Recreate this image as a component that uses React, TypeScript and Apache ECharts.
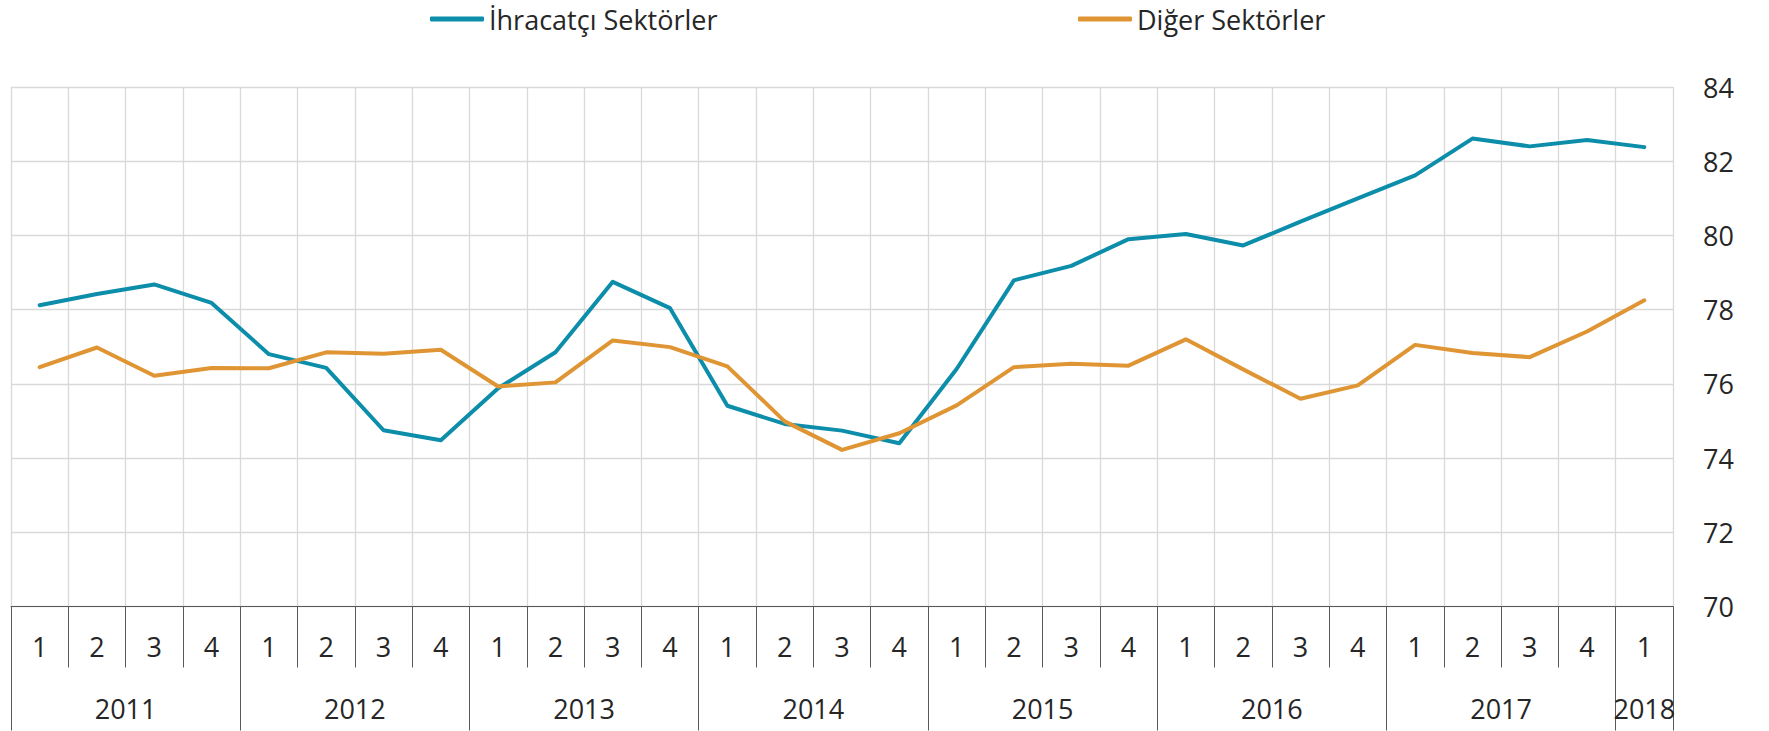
import React, { useEffect, useRef } from "react";
import * as echarts from "echarts";

const quarters: string[] = [
  "1", "2", "3", "4", "1", "2", "3", "4", "1", "2", "3", "4", "1", "2", "3", "4",
  "1", "2", "3", "4", "1", "2", "3", "4", "1", "2", "3", "4", "1",
];
const years: string[] = ["2011", "2012", "2013", "2014", "2015", "2016", "2017", "2018"];
const yearBoundaries: number[] = [0, 4, 8, 12, 16, 20, 24, 28, 29];
const yearCenters: number[] = [2, 6, 10, 14, 18, 22, 26, 28.5];

const ihracatci: number[] = [
  78.12, 78.42, 78.68, 78.18, 76.8, 76.43, 74.75, 74.48, 75.88, 76.85, 78.75, 78.04,
  75.41, 74.92, 74.74, 74.4, 76.4, 78.79, 79.18, 79.9, 80.04, 79.73, 80.37, 81.0,
  81.62, 82.61, 82.4, 82.57, 82.38,
];
const diger: number[] = [
  76.45, 76.98, 76.22, 76.43, 76.42, 76.85, 76.81, 76.92, 75.93, 76.04, 77.17, 76.99,
  76.47, 74.99, 74.22, 74.67, 75.42, 76.45, 76.54, 76.49, 77.2, 76.39, 75.6, 75.96,
  77.05, 76.83, 76.72, 77.41, 78.25,
];

const FONT = "Open Sans";
const TEXT = "#262626";
const AXIS = "#595959";
const GRID = "#d9d9d9";
const BLUE = "#0C8DAA";
const ORANGE = "#DF9534";

export default function App() {
  const ref = useRef<HTMLDivElement>(null);
  useEffect(() => {
    if (!ref.current) return;
    const chart = echarts.init(ref.current, null, { renderer: "svg" });
    const legendText = { fontFamily: FONT, fontSize: 27, color: TEXT, lineHeight: 30 };
    chart.setOption({
      animation: false,
      backgroundColor: "#ffffff",
      legend: [
        {
          data: ["İhracatçı Sektörler"],
          left: 430,
          top: 4,
          icon: "roundRect",
          itemWidth: 54,
          itemHeight: 5,
          itemGap: 0,
          padding: 0,
          textStyle: legendText,
        },
        {
          data: ["Diğer Sektörler"],
          left: 1078,
          top: 4,
          icon: "roundRect",
          itemWidth: 54,
          itemHeight: 5,
          itemGap: 0,
          padding: 0,
          textStyle: legendText,
        },
      ],
      grid: { left: 11, top: 87, width: 1662, height: 519.5, containLabel: false },
      xAxis: [
        {
          type: "category",
          data: quarters,
          boundaryGap: true,
          position: "bottom",
          axisLine: { show: true, lineStyle: { color: AXIS, width: 1 } },
          axisTick: { show: true, interval: 0, length: 61, lineStyle: { color: AXIS, width: 1 } },
          axisLabel: { interval: 0, margin: 26, fontFamily: FONT, fontSize: 27, color: TEXT },
          splitLine: { show: true, interval: 0, lineStyle: { color: GRID, width: 1.3 } },
        },
        {
          type: "value",
          min: 0,
          max: 29,
          position: "bottom",
          axisLine: { show: false },
          axisTick: {
            show: true,
            customValues: yearBoundaries,
            length: 124,
            lineStyle: { color: AXIS, width: 1 },
          },
          axisLabel: {
            show: true,
            customValues: yearCenters,
            margin: 88,
            fontFamily: FONT,
            fontSize: 27,
            color: TEXT,
            formatter: (v: number) => years[Math.min(years.length - 1, Math.floor(v / 4))],
          },
          splitLine: { show: false },
        },
      ],
      yAxis: {
        type: "value",
        position: "right",
        min: 70,
        max: 84,
        interval: 2,
        axisLine: { show: false },
        axisTick: { show: false },
        axisLabel: { margin: 30, fontFamily: FONT, fontSize: 27, color: TEXT },
        splitLine: { show: true, lineStyle: { color: GRID, width: 1.3 } },
      },
      series: [
        {
          name: "İhracatçı Sektörler",
          type: "line",
          data: ihracatci,
          xAxisIndex: 0,
          showSymbol: false,
          symbol: "none",
          color: BLUE,
          lineStyle: { color: BLUE, width: 4, cap: "round", join: "round" },
        },
        {
          name: "Diğer Sektörler",
          type: "line",
          data: diger,
          xAxisIndex: 0,
          showSymbol: false,
          symbol: "none",
          color: ORANGE,
          lineStyle: { color: ORANGE, width: 4, cap: "round", join: "round" },
        },
      ],
    });
    return () => chart.dispose();
  }, []);
  return (
    <div
      ref={ref}
      style={{ position: "fixed", left: 0, top: 0, width: 1769, height: 731, background: "#fff" }}
    />
  );
}
